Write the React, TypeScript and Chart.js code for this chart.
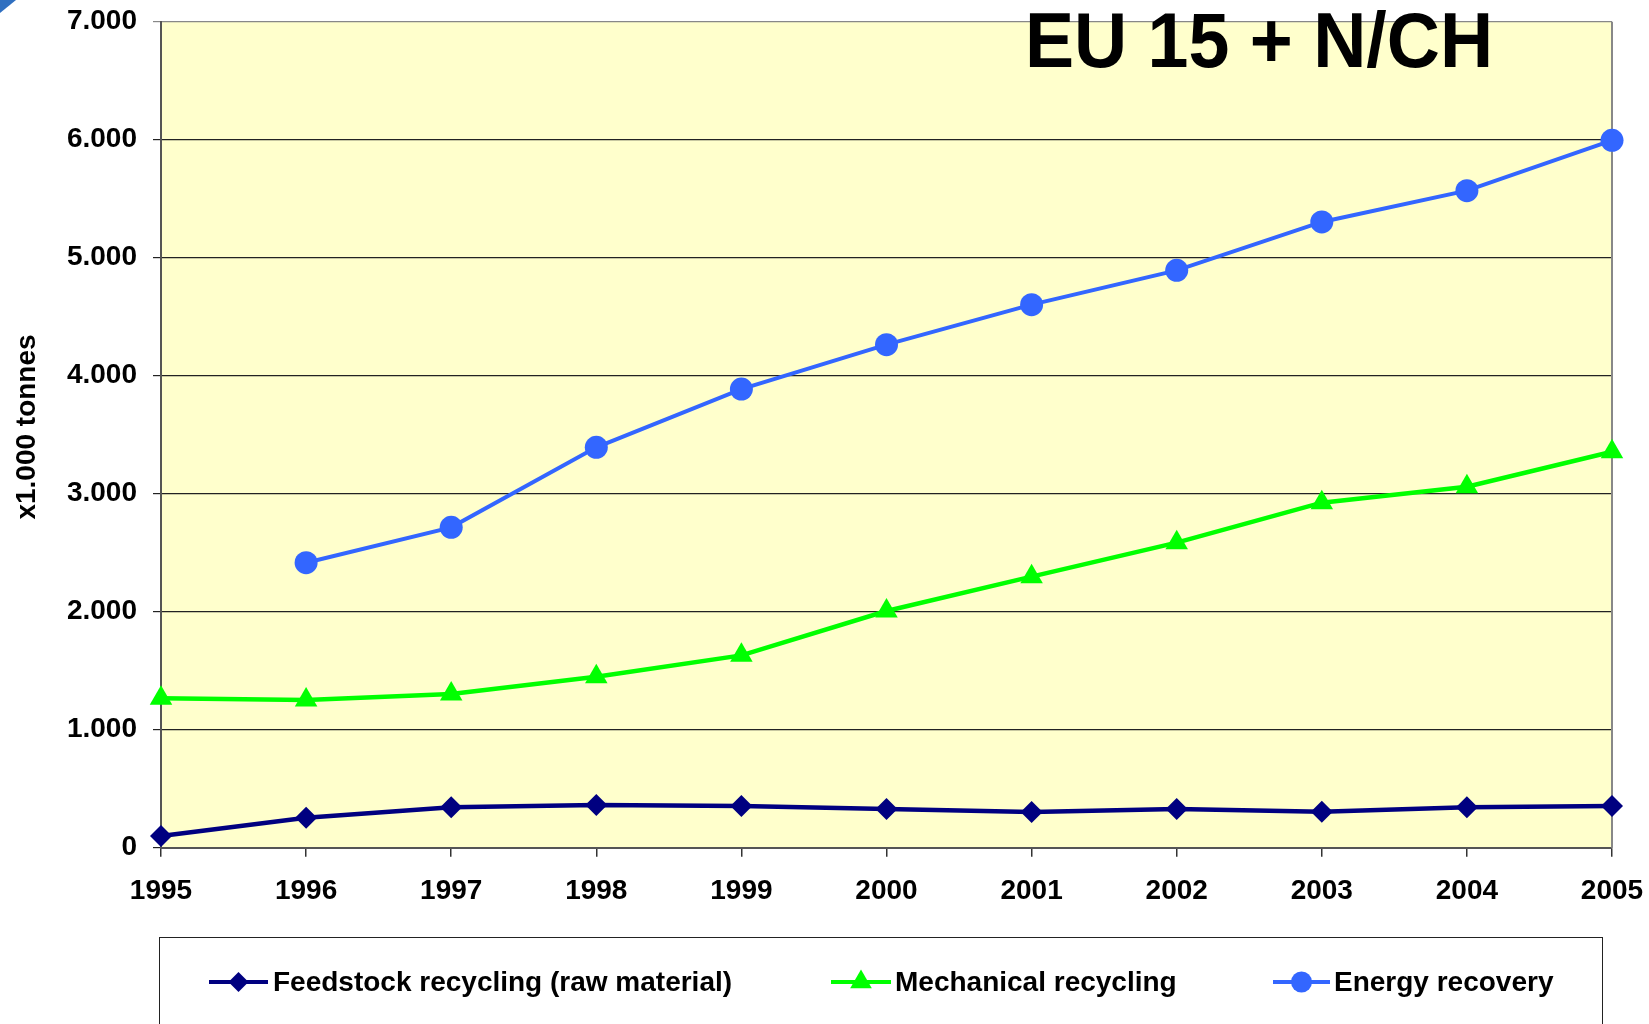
import React, { useEffect, useRef } from "react";
import { Chart, registerables } from "chart.js";

Chart.register(...registerables);

const years = ["1995", "1996", "1997", "1998", "1999", "2000", "2001", "2002", "2003", "2004", "2005"];
const feedstock = [100, 254, 342, 362, 353, 328, 303, 328, 305, 342, 353];
const mechanical = [1266, 1252, 1303, 1449, 1630, 2006, 2297, 2585, 2924, 3059, 3356];
const energy = [null, 2415, 2715, 3393, 3887, 4263, 4602, 4893, 5303, 5568, 5995];
const seriesNames = ["Feedstock recycling (raw material)", "Mechanical recycling", "Energy recovery"];
const seriesColors = ["#000080", "#00FF00", "#3366FF"];
const chartTitle = "EU 15 + N/CH";
const yAxisTitle = "x1.000 tonnes";
const yMin = 0;
const yMax = 7000;
const yStep = 1000;

const FONT = '"Liberation Sans", Arial, Helvetica, sans-serif';

function formatThousands(v: number): string {
  const s = Math.round(v).toString();
  return s.replace(/\B(?=(\d{3})+(?!\d))/g, ".");
}

function drawMarker(ctx: CanvasRenderingContext2D, kind: string, x: number, y: number, r: number) {
  ctx.beginPath();
  if (kind === "diamond") {
    ctx.moveTo(x, y - r);
    ctx.lineTo(x + r, y);
    ctx.lineTo(x, y + r);
    ctx.lineTo(x - r, y);
    ctx.closePath();
  } else if (kind === "triangle") {
    const h = r * 1.5;
    const w = r * Math.sqrt(3);
    ctx.moveTo(x, y - r);
    ctx.lineTo(x + w / 2, y - r + h);
    ctx.lineTo(x - w / 2, y - r + h);
    ctx.closePath();
  } else {
    ctx.arc(x, y, r, 0, Math.PI * 2);
  }
  ctx.fill();
}

const decorPlugin = {
  id: "decor",
  beforeDraw(chart: any) {
    const { ctx, chartArea } = chart;
    const { left, top, right, bottom } = chartArea;
    ctx.save();
    ctx.fillStyle = "#FFFFCC";
    ctx.fillRect(left, top, right - left, bottom - top);
    ctx.restore();
  },
  beforeDatasetsDraw(chart: any) {
    const { ctx, chartArea } = chart;
    const { top, right, bottom } = chartArea;
    ctx.save();
    ctx.strokeStyle = "#888888";
    ctx.lineWidth = 2;
    ctx.beginPath();
    ctx.moveTo(right, top);
    ctx.lineTo(right, bottom);
    ctx.stroke();
    ctx.restore();
  },
  afterDraw(chart: any) {
    const { ctx } = chart;
    ctx.save();
    // corner artifact
    ctx.fillStyle = "#2F6FC0";
    ctx.beginPath();
    ctx.moveTo(0, 0);
    ctx.lineTo(16, 0);
    ctx.lineTo(0, 13);
    ctx.closePath();
    ctx.fill();

    // y axis title
    ctx.save();
    ctx.translate(27, 427);
    ctx.rotate(-Math.PI / 2);
    ctx.fillStyle = "#000000";
    ctx.font = `bold 28px ${FONT}`;
    ctx.textAlign = "center";
    ctx.textBaseline = "middle";
    ctx.fillText(yAxisTitle, 0, 0);
    ctx.restore();

    // title
    ctx.fillStyle = "#000000";
    ctx.font = `bold 78px ${FONT}`;
    ctx.textAlign = "center";
    ctx.textBaseline = "alphabetic";
    ctx.fillText(chartTitle, 1259, 67, 468);

    // legend box
    ctx.strokeStyle = "#222222";
    ctx.lineWidth = 1;
    ctx.strokeRect(159.5, 937.5, 1443, 200);

    const items = [
      { x1: 209, x2: 268, tx: 273, kind: "diamond", r: 10 },
      { x1: 831, x2: 891, tx: 895, kind: "triangle", r: 12.5 },
      { x1: 1273, x2: 1330, tx: 1334, kind: "circle", r: 10.5 },
    ];
    const ly = 982;
    items.forEach((it, i) => {
      ctx.strokeStyle = seriesColors[i];
      ctx.fillStyle = seriesColors[i];
      ctx.lineWidth = 4;
      ctx.beginPath();
      ctx.moveTo(it.x1, ly);
      ctx.lineTo(it.x2, ly);
      ctx.stroke();
      drawMarker(ctx, it.kind, (it.x1 + it.x2) / 2, ly, it.r);
      ctx.fillStyle = "#000000";
      ctx.font = `bold 28px ${FONT}`;
      ctx.textAlign = "left";
      ctx.textBaseline = "middle";
      ctx.fillText(seriesNames[i], it.tx, ly + 1);
    });
    ctx.restore();
  },
};

export default function App() {
  const canvasRef = useRef<HTMLCanvasElement | null>(null);

  useEffect(() => {
    if (!canvasRef.current) return;
    const chart = new Chart(canvasRef.current, {
      type: "line",
      data: {
        labels: years,
        datasets: [
          {
            label: seriesNames[0],
            data: feedstock,
            borderColor: seriesColors[0],
            backgroundColor: seriesColors[0],
            borderWidth: 4.5,
            pointStyle: "rectRot",
            pointRadius: 11,
            pointBorderWidth: 0,
            pointBackgroundColor: seriesColors[0],
            clip: false,
            tension: 0,
          },
          {
            label: seriesNames[1],
            data: mechanical,
            borderColor: seriesColors[1],
            backgroundColor: seriesColors[1],
            borderWidth: 4.5,
            pointStyle: "triangle",
            pointRadius: 13,
            pointBorderWidth: 0,
            pointBackgroundColor: seriesColors[1],
            clip: false,
            tension: 0,
          },
          {
            label: seriesNames[2],
            data: energy,
            borderColor: seriesColors[2],
            backgroundColor: seriesColors[2],
            borderWidth: 4,
            pointStyle: "circle",
            pointRadius: 11.5,
            pointBorderWidth: 0,
            pointBackgroundColor: seriesColors[2],
            clip: false,
            tension: 0,
            spanGaps: false,
          },
        ],
      },
      options: {
        responsive: false,
        animation: false,
        devicePixelRatio: 1,
        layout: { padding: { top: 21.7, right: 37, bottom: 0, left: 0 } },
        plugins: {
          legend: { display: false },
          title: { display: false },
          tooltip: { enabled: false },
        },
        scales: {
          x: {
            type: "category",
            offset: false,
            afterFit: (s: any) => {
              s.height = 1024 - 847.7;
              s.paddingLeft = 0;
              s.paddingRight = 0;
            },
            grid: {
              drawOnChartArea: false,
              drawTicks: true,
              tickLength: 9,
              color: "#333333",
              lineWidth: 1.5,
            },
            border: { display: true, color: "#555555", width: 2 },
            ticks: {
              color: "#000000",
              font: { family: FONT, size: 28, weight: "bold" },
              padding: 18,
              maxRotation: 0,
              autoSkip: false,
            },
          },
          y: {
            min: yMin,
            max: yMax,
            afterFit: (s: any) => {
              s.width = 161;
              s.paddingTop = 0;
              s.paddingBottom = 0;
            },
            grid: {
              color: (c: any) => (c.tick && c.tick.value === yMax ? "#888888" : "#222222"),
              lineWidth: 1.2,
              drawTicks: true,
              tickLength: 8,
            },
            border: { display: true, color: "#555555", width: 2 },
            ticks: {
              stepSize: yStep,
              color: "#000000",
              font: { family: FONT, size: 28, weight: "bold" },
              padding: 16,
              callback: (v: any) => formatThousands(Number(v)),
            },
            title: { display: false },
          },
        },
      },
      plugins: [decorPlugin],
    } as any);
    return () => chart.destroy();
  }, []);

  return (
    <div style={{ position: "absolute", left: 0, top: 0, width: 1649, height: 1024, background: "#ffffff" }}>
      <canvas ref={canvasRef} width={1649} height={1024} style={{ display: "block" }} />
    </div>
  );
}
